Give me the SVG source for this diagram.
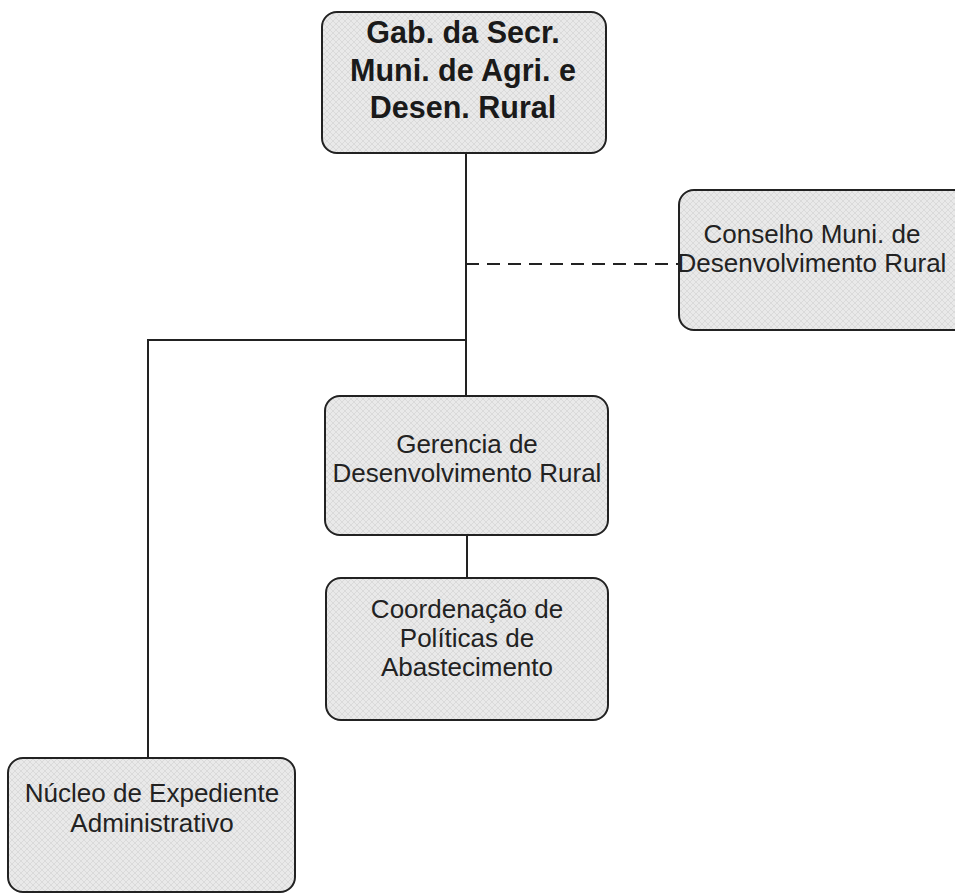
<svg xmlns="http://www.w3.org/2000/svg" width="955" height="894" viewBox="0 0 955 894">
<defs>
<pattern id="hatch" width="6" height="6" patternUnits="userSpaceOnUse">
<rect width="6" height="6" fill="#e9e9e9"/>
<path d="M0 0L6 6M6 0L0 6" stroke="#d6d6d6" stroke-width="0.8"/>
</pattern>
</defs>
<style>
.box{fill:url(#hatch);stroke:#222;stroke-width:2}
.t{font-family:"Liberation Sans",Arial,sans-serif;font-size:26px;fill:#222;text-anchor:middle}
.b{font-family:"Liberation Sans",Arial,sans-serif;font-size:30.5px;font-weight:bold;fill:#1a1a1a;text-anchor:middle}
.ln{stroke:#222;stroke-width:2;fill:none}
.dash{stroke:#222;stroke-width:2;fill:none;stroke-dasharray:13 8}
</style>
<rect width="955" height="894" fill="#ffffff"/>
<g id="connectors">
<path class="ln" d="M466 153V396"/>
<path class="dash" d="M466 264H679"/>
<path class="ln" d="M466 340H148V758"/>
<path class="ln" d="M467 535V578"/>
</g>
<g id="gabinete">
<rect class="box" x="322" y="12" width="284" height="141" rx="15"/>
<text class="b" x="463" y="43">Gab. da Secr.</text>
<text class="b" x="463" y="81">Muni. de Agri. e</text>
<text class="b" x="463" y="118">Desen. Rural</text>
</g>
<g id="conselho">
<rect class="box" x="679" y="190" width="290" height="140" rx="15"/>
<text class="t" x="812" y="243">Conselho Muni. de</text>
<text class="t" x="812" y="272">Desenvolvimento Rural</text>
</g>
<g id="gerencia">
<rect class="box" x="325" y="396" width="283" height="139" rx="15"/>
<text class="t" x="467" y="453">Gerencia de</text>
<text class="t" x="467" y="482">Desenvolvimento Rural</text>
</g>
<g id="coordenacao">
<rect class="box" x="326" y="578" width="282" height="142" rx="15"/>
<text class="t" x="467" y="618">Coordenação de</text>
<text class="t" x="467" y="647">Políticas de</text>
<text class="t" x="467" y="676">Abastecimento</text>
</g>
<g id="nucleo">
<rect class="box" x="8" y="758" width="287" height="134" rx="15"/>
<text class="t" x="152" y="802">Núcleo de Expediente</text>
<text class="t" x="152" y="832">Administrativo</text>
</g>
</svg>
